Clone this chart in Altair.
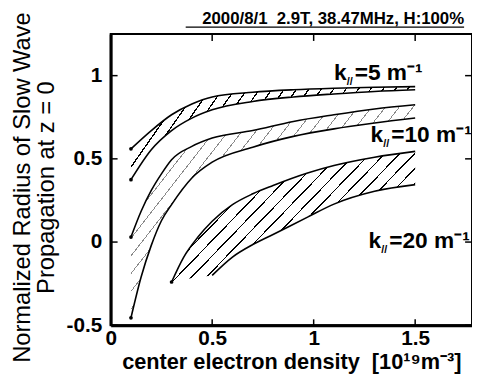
import math
import altair as alt
import pandas as pd

# ---------------- data ----------------
k5_x = [0.1, 0.2, 0.3, 0.4, 0.5, 0.7, 0.9, 1.1, 1.3, 1.5]
k5_hi = [0.56, 0.67, 0.765, 0.83, 0.872, 0.90, 0.915, 0.924, 0.93, 0.934]
k5_lo = [0.375, 0.555, 0.67, 0.745, 0.795, 0.845, 0.872, 0.89, 0.905, 0.915]

k10_x = [0.1, 0.15, 0.2, 0.25, 0.3, 0.4, 0.5, 0.7, 0.9, 1.1, 1.3, 1.5]
k10_hi = [0.03, 0.185, 0.31, 0.41, 0.495, 0.575, 0.625, 0.67, 0.725, 0.765, 0.80, 0.825]
k10_lo = [-0.455, -0.21, -0.02, 0.128, 0.225, 0.385, 0.48, 0.57, 0.635, 0.68, 0.715, 0.745]

k20_x = [0.3, 0.36, 0.43, 0.5, 0.6, 0.7, 0.8, 0.97, 1.1, 1.3, 1.5]
k20_hi = [-0.24, -0.09, 0.03, 0.125, 0.225, 0.29, 0.34, 0.415, 0.46, 0.51, 0.545]
k20_lo = [-0.24, -0.225, -0.21, -0.2, -0.09, -0.015, 0.045, 0.15, 0.228, 0.305, 0.345]
k20_lo_start = 0.5  # lower boundary line of k=20 is drawn from here on

label_x = [1.10, 1.28, 1.27]
label_y = [0.975, 0.60, -0.035]
label_rest = ["=5 m\u207b\u00b9", "=10 m\u207b\u00b9", "=20 m\u207b\u00b9"]

x_ticks = [0.5, 1.0, 1.5]
y_ticks = [-0.5, 0.0, 0.5, 1.0]
x_labels = [0, 0.5, 1, 1.5]

run_title = "2000/8/1\u00a0\u00a02.9T, 38.47MHz, H:100%"
x_title = "center electron density\u00a0\u00a0[10\u00b9\u2079m\u207b\u00b3]"
y_title = ["Normalized Radius of Slow Wave", "Propagation at z = 0"]

# ---------------- layout / style ----------------
W, H = 366, 295
XD = [0, 1.78]
YD = [-0.5, 1.25]
SX = W / (XD[1] - XD[0])
SY = H / (YD[1] - YD[0])
FONT = "Liberation Sans"


def hatch(xs, his, los, angle, spacing_h, lw, color):
    w = (max(xs) - min(xs)) * SX
    h = (max(his) - min(los)) * SY
    th = math.radians(angle)
    s, c = math.sin(th), math.cos(th)
    k = (w * s + h * c) / (w * w * s * s + h * h * c * c)
    gx, gy = k * w * s, k * h * c
    D = w * s + h * c
    perp = spacing_h * s
    stops = []
    i = 0
    while True:
        t0 = i * perp / D + 0.5 * perp / D
        if t0 >= 1:
            break
        t1 = min(t0 + lw / D, 1.0)
        stops += [(t0, "white"), (t0, color), (t1, color), (t1, "white")]
        i += 1
    stops = [(0.0, "white")] + stops + [(1.0, "white")]
    return alt.LinearGradient(
        gradient="linear",
        stops=[alt.GradientStop(offset=o, color=col) for o, col in stops],
        x1=0, y1=0, x2=gx, y2=gy,
    )


xs_ = alt.Scale(domain=XD, nice=False, zero=False)
ys_ = alt.Scale(domain=YD, nice=False, zero=False)

x_axis = alt.Axis(values=x_labels, labelExpr="toString(datum.value)", tickSize=0,
                  labelFont=FONT, labelFontSize=21, labelFontWeight="bold", labelColor="black",
                  labelPadding=2, domainColor="black", domainWidth=3, grid=False,
                  title=x_title, titleFont=FONT, titleFontSize=22, titleFontWeight="bold",
                  titleColor="black", titlePadding=4, labelFlush=False)
y_axis = alt.Axis(values=y_ticks, labelExpr="toString(datum.value)", tickSize=0,
                  labelFont=FONT, labelFontSize=21, labelFontWeight="bold", labelColor="black",
                  labelPadding=9, domainColor="black", domainWidth=3, grid=False,
                  title=y_title, titleFont=FONT, titleFontSize=24, titleFontWeight="normal",
                  titleColor="black", titlePadding=8, titleLineHeight=24, titleY=155,
                  labelFlush=False)


def X(f):
    return alt.X(f, type="quantitative", scale=xs_, axis=x_axis)


def Y(f):
    return alt.Y(f, type="quantitative", scale=ys_, axis=y_axis)


def band(xs, his, los, grad):
    df = pd.DataFrame({"x": xs, "hi": his, "lo": los})
    return alt.Chart(df).mark_area(fill=grad, interpolate="monotone", opacity=1).encode(
        x=X("x"), y=Y("hi"), y2="lo")


g5 = hatch(k5_x, k5_hi, k5_lo, 55, 12.5, 1.3, "black")
g10 = hatch(k10_x, k10_hi, k10_lo, 52, 14, 0.9, "#8a8a8a")
g20 = hatch(k20_x, k20_hi, k20_lo, 46, 15, 1.2, "black")

rows = []
for name, xs, his, los in [("k5", k5_x, k5_hi, k5_lo), ("k10", k10_x, k10_hi, k10_lo),
                           ("k20", k20_x, k20_hi, k20_lo)]:
    for xv, yv in zip(xs, his):
        rows.append({"line": name + "hi", "x": xv, "y": yv})
    for xv, yv in zip(xs, los):
        if name == "k20" and xv < k20_lo_start:
            continue
        rows.append({"line": name + "lo", "x": xv, "y": yv})
lines_df = pd.DataFrame(rows)
starts_df = lines_df.groupby("line", as_index=False).first()
starts_df = starts_df[starts_df["line"] != "k20lo"]

lines = alt.Chart(lines_df).mark_line(interpolate="monotone", color="black", strokeWidth=1.6).encode(
    x=X("x"), y=Y("y"), detail="line:N")
dots = alt.Chart(starts_df).mark_circle(color="black", size=14, opacity=1).encode(x=X("x"), y=Y("y"))

lab_df = pd.DataFrame({"x": label_x, "y": label_y, "rest": label_rest, "k": ["k"] * 3, "sub": ["//"] * 3})
lab_k = alt.Chart(lab_df).mark_text(font=FONT, fontSize=23, fontWeight="bold", align="left",
                                    baseline="alphabetic", color="black").encode(x=X("x"), y=Y("y"), text="k:N")
lab_sub = alt.Chart(lab_df).mark_text(font=FONT, fontSize=11, fontWeight="bold", align="left",
                                      baseline="alphabetic", color="black", dx=13, dy=5).encode(
    x=X("x"), y=Y("y"), text="sub:N")
lab_rest = alt.Chart(lab_df).mark_text(font=FONT, fontSize=23, fontWeight="bold", align="left",
                                       baseline="alphabetic", color="black", dx=21).encode(
    x=X("x"), y=Y("y"), text="rest:N")

xt_df = pd.DataFrame({"v": x_ticks})
yt_df = pd.DataFrame({"v": y_ticks})
tick_top = alt.Chart(xt_df).mark_rule(color="black", strokeWidth=1.5).encode(
    x=X("v"), y=alt.value(0), y2=alt.value(7))
tick_bot = alt.Chart(xt_df).mark_rule(color="black", strokeWidth=1.5).encode(
    x=X("v"), y=alt.value(H - 6), y2=alt.value(H))
tick_left = alt.Chart(yt_df).mark_rule(color="black", strokeWidth=1.5).encode(
    y=Y("v"), x=alt.value(0), x2=alt.value(7))
tick_right = alt.Chart(yt_df).mark_rule(color="black", strokeWidth=1.5).encode(
    y=Y("v"), x=alt.value(W - 7), x2=alt.value(W))

t_df = pd.DataFrame({"t": [run_title]})
top_title = alt.Chart(t_df).mark_text(font=FONT, fontSize=17, fontWeight="bold", align="right",
                                      baseline="alphabetic", color="black").encode(
    x=alt.value(358), y=alt.value(-10), text="t:N")
underline = alt.Chart(t_df).mark_rule(color="black", strokeWidth=1.3).encode(
    x=alt.value(76), x2=alt.value(358), y=alt.value(-7))

chart = alt.layer(
    band(k5_x, k5_hi, k5_lo, g5),
    band(k10_x, k10_hi, k10_lo, g10),
    band(k20_x, k20_hi, k20_lo, g20),
    lines, dots, lab_k, lab_sub, lab_rest,
    tick_top, tick_bot, tick_left, tick_right,
    top_title, underline,
).properties(
    width=W, height=H,
    padding={"left": 104, "top": 24, "right": 0, "bottom": 48},
    autosize=alt.AutoSizeParams(type="none"),
    background="white",
).configure_view(stroke="black", strokeWidth=2)

chart.save("out.html", embed_options={"renderer": "svg", "actions": False})
